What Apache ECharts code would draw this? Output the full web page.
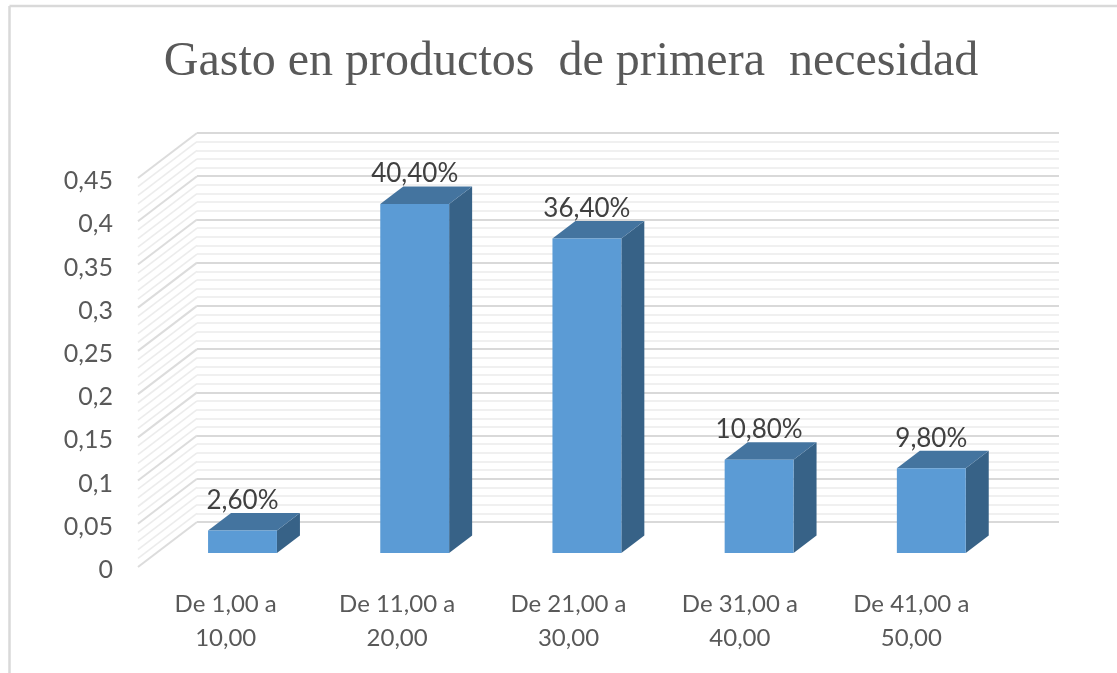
<!DOCTYPE html>
<html>
<head>
<meta charset="utf-8">
<style>html,body{margin:0;padding:0;background:#fff}#c{width:1117px;height:673px}</style>
<script src="https://cdn.jsdelivr.net/npm/echarts@6/dist/echarts.min.js"></script>
</head>
<body>
<div id="c"></div>
<script>
var titleText = 'Gasto en productos  de primera  necesidad';
var categories = ['De 1,00 a\n10,00', 'De 11,00 a\n20,00', 'De 21,00 a\n30,00', 'De 31,00 a\n40,00', 'De 41,00 a\n50,00'];
var values = [0.026, 0.404, 0.364, 0.108, 0.098];
var valueLabels = ['2,60%', '40,40%', '36,40%', '10,80%', '9,80%'];
var majorTicks = [0, 0.05, 0.1, 0.15, 0.2, 0.25, 0.3, 0.35, 0.4, 0.45];
var minorTicks = [0.01,0.02,0.03,0.04,0.06,0.07,0.08,0.09,0.11,0.12,0.13,0.14,0.16,0.17,0.18,0.19,0.21,0.22,0.23,0.24,0.26,0.27,0.28,0.29,0.31,0.32,0.33,0.34,0.36,0.37,0.38,0.39,0.41,0.42,0.43,0.44];

var FRONT = '#5b9bd5', TOP = '#44749f', SIDE = '#376287';
var MAJOR = '#d9d9d9', MINOR = '#f0f0f0';
var FONT = 'Lato, sans-serif';
var WALL_DX = -59, WALL_DY = 45;
var BAR_DX = 23, BAR_DY = -17.5;

function hiddenY(i) {
  return { type: 'value', gridIndex: i, min: 0, max: 0.45, interval: 0.05, show: false };
}

var chart = echarts.init(document.getElementById('c'), null, { renderer: 'canvas' });
chart.setOption({
  animation: false,
  backgroundColor: '#fff',
  title: {
    text: titleText, left: 566, top: 33, textAlign: 'center',
    textStyle: { fontFamily: '"Liberation Serif", serif', fontSize: 48, fontWeight: 'normal', color: '#595959' }
  },
  graphic: [
    { type: 'line', silent: true, shape: { x1: 9.5, y1: 6, x2: 1117, y2: 6 }, style: { stroke: '#d9d9d9', lineWidth: 2.5 } },
    { type: 'line', silent: true, shape: { x1: 9.5, y1: 6, x2: 9.5, y2: 673 }, style: { stroke: '#d9d9d9', lineWidth: 2.5 } }
  ],
  grid: [
    { left: 197, top: 133, width: 862, height: 389 },   // back wall
    { left: 140, top: 181, width: 857, height: 389 },   // front edge, carries the labels
    { left: 156.4, top: 164.2, width: 861, height: 388.8 } // plane of the bars
  ],
  xAxis: [
    { type: 'value', gridIndex: 0, min: 0, max: 1, show: false },
    {
      type: 'category', gridIndex: 1, data: categories,
      axisLine: { show: false }, axisTick: { show: false }, splitLine: { show: false },
      axisLabel: { color: '#595959', fontFamily: FONT, fontSize: 24, lineHeight: 34, margin: 17, interval: 0 }
    },
    { type: 'category', gridIndex: 2, data: categories, show: false }
  ],
  yAxis: [
    {
      type: 'value', gridIndex: 0, min: 0, max: 0.45, interval: 0.05,
      axisLine: { show: false }, axisTick: { show: false }, axisLabel: { show: false },
      splitLine: { show: true, lineStyle: { color: MAJOR, width: 2 } },
      minorTick: { show: false, splitNumber: 5 },
      minorSplitLine: { show: true, lineStyle: { color: MINOR, width: 2 } }
    },
    {
      type: 'value', gridIndex: 1, min: 0, max: 0.45, interval: 0.05,
      axisLine: { show: false }, axisTick: { show: false }, splitLine: { show: false },
      axisLabel: {
        color: '#595959', fontFamily: FONT, fontSize: 25, margin: 27,
        formatter: function (v) { return String(+v.toFixed(2)).replace('.', ','); }
      }
    },
    hiddenY(2)
  ],
  series: [
    {
      type: 'custom', xAxisIndex: 0, yAxisIndex: 0, silent: true, z: 1, clip: false,
      data: minorTicks.map(function (v) { return [0, v, 0]; }).concat(majorTicks.map(function (v) { return [0, v, 1]; })),
      encode: { x: 0, y: 1 },
      renderItem: function (params, api) {
        var p = api.coord([0, api.value(1)]);
        var major = api.value(2) === 1;
        return {
          type: 'line',
          shape: { x1: p[0], y1: p[1], x2: p[0] + WALL_DX, y2: p[1] + WALL_DY },
          style: { stroke: major ? '#dcdcdc' : '#ececec', lineWidth: major ? 2 : 1.6 }
        };
      }
    },
    {
      type: 'custom', xAxisIndex: 2, yAxisIndex: 2, silent: true, z: 3, clip: false,
      data: values.map(function (v, i) { return [i, v, valueLabels[i]]; }),
      dimensions: ['cat', 'value', { name: 'label', type: 'ordinal' }],
      encode: { x: 0, y: 1 },
      renderItem: function (params, api) {
        var i = params.dataIndex;
        var top = api.coord([i, values[i]]);
        var base = api.coord([i, 0]);
        var w = api.size([1, 0])[0] * 0.4;
        var l = top[0] - w / 2, r = top[0] + w / 2;
        return {
          type: 'group',
          children: [
            { type: 'polygon', shape: { points: [[r, top[1]], [r + BAR_DX, top[1] + BAR_DY], [r + BAR_DX, base[1] + BAR_DY], [r, base[1]]] }, style: { fill: SIDE } },
            { type: 'polygon', shape: { points: [[l, top[1]], [l + BAR_DX, top[1] + BAR_DY], [r + BAR_DX, top[1] + BAR_DY], [r, top[1]]] }, style: { fill: TOP } },
            { type: 'rect', shape: { x: l, y: top[1], width: w, height: base[1] - top[1] }, style: { fill: FRONT } },
            {
              type: 'text', z2: 10,
              style: {
                x: top[0], y: top[1] - 30, text: valueLabels[i], align: 'center', verticalAlign: 'middle',
                fill: '#404040', fontFamily: FONT, fontSize: 26
              }
            }
          ]
        };
      }
    }
  ]
});
</script>
</body>
</html>
